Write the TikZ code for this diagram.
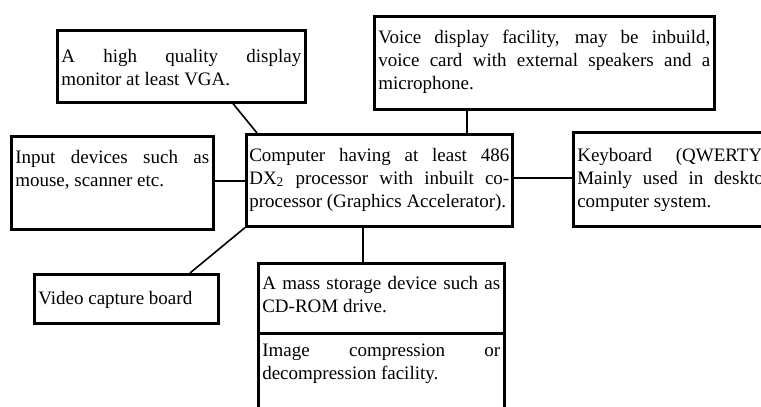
\documentclass[tikz,border=0pt]{standalone}
\usepackage{fontspec}
\setmainfont{Liberation Serif}
\newcommand{\cardtext}[4][13.5pt]{\parbox[t][#2][t]{#3}{\sloppy\hyphenpenalty=10000\rule{0pt}{#1}#4}}
\tikzset{
	card/.style={draw,line width=1.3pt,anchor=north west,inner xsep=2pt,inner ysep=0pt},
	link/.style={line width=.8pt}
}
\begin{document}
\begin{tikzpicture}[x=.5pt,y=-.5pt,font=\fontsize{9.5}{11.5}\selectfont]
	\useasboundingbox (0,0) rectangle (761,407);
	\clip (0,0) rectangle (761,407);
	% boxes round the computer
	\node[card] (monitor) at (56,29) {\cardtext[16pt]{36pt}{120pt}{A high quality display\linebreak monitor at least VGA.}};
	\node[card] (voice) at (373,15) {\cardtext{46.5pt}{166pt}{Voice display facility, may be inbuild,\linebreak voice card with external speakers and a\linebreak microphone.}};
	\node[card] (input) at (10,135) {\cardtext{46.5pt}{97pt}{Input devices such as\linebreak mouse, scanner etc.}};
	\node[card,inner xsep=1.5pt] (computer) at (245,133) {\cardtext{46pt}{130pt}{Computer having at least 486\linebreak DX\textsubscript{2} processor with inbuilt co-\linebreak processor (Graphics Accelerator).}};
	\node[card] (keyboard) at (572,131) {\cardtext[14.5pt]{47pt}{98pt}{Keyboard (QWERTY).\linebreak Mainly used in desktop\linebreak computer system.}};
	\node[card] (video) at (33,273) {\cardtext[15pt]{24.5pt}{88pt}{Video capture board}};
	\node[card] (mass) at (257,262) {\cardtext[13pt]{35pt}{119pt}{A mass storage device such as\linebreak CD-ROM drive.}};
	\node[card] (image) at (257,332) {\cardtext[11.5pt]{46.5pt}{119pt}{Image compression or\linebreak decompression facility.}};
	% connectors
	\draw[link] (233,0 |- monitor.south) -- (257,0 |- computer.north);
	\draw[link] (467,0 |- voice.south) -- (467,0 |- computer.north);
	\draw[link] (input.east |- 0,181) -- (computer.west |- 0,181);
	\draw[link] (computer.east |- 0,178) -- (keyboard.west |- 0,178);
	\draw[link] (190,0 |- video.north) -- (computer.south west);
	\draw[link] (363,0 |- computer.south) -- (363,0 |- mass.north);
\end{tikzpicture}
\end{document}
